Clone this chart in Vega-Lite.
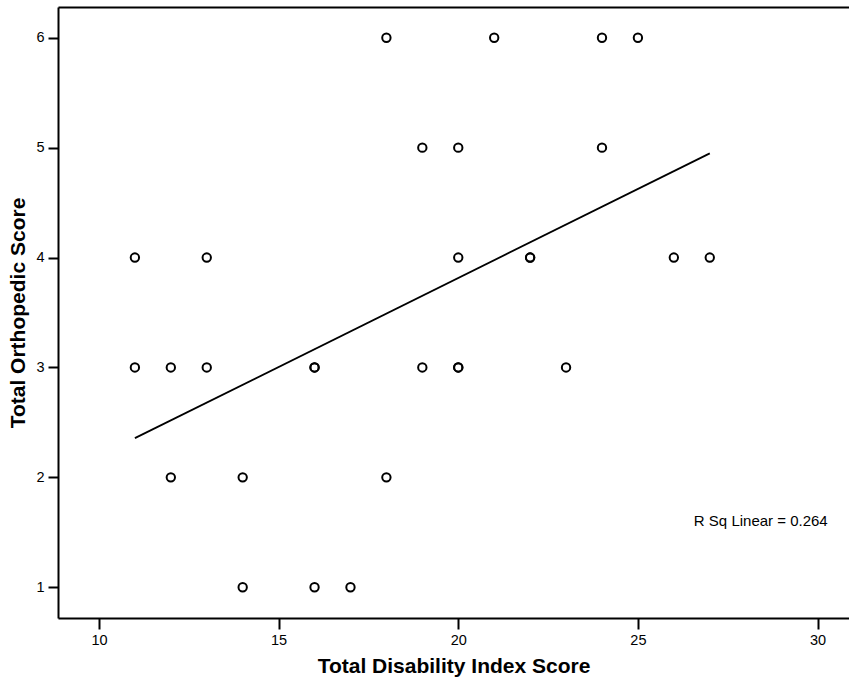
{
  "$schema": "https://vega.github.io/schema/vega-lite/v6.json",
  "autosize": {"type": "none"},
  "padding": {"left": 58, "top": 7, "right": 0, "bottom": 61},
  "width": 791,
  "height": 611,
  "background": "white",
  "config": {
    "view": {"stroke": null},
    "font": "Liberation Sans",
    "axis": {
      "grid": false,
      "domainColor": "black",
      "domainWidth": 2,
      "tickColor": "black",
      "tickWidth": 2,
      "labelColor": "black",
      "labelFont": "Liberation Sans",
      "labelFontSize": 14.5,
      "titleColor": "black",
      "titleFont": "Liberation Sans",
      "titleFontSize": 21,
      "titleFontWeight": "bold"
    }
  },
  "data": {
    "values": [
      {"disability": 11, "orthopedic": 4},
      {"disability": 11, "orthopedic": 3},
      {"disability": 12, "orthopedic": 3},
      {"disability": 12, "orthopedic": 2},
      {"disability": 13, "orthopedic": 4},
      {"disability": 13, "orthopedic": 3},
      {"disability": 14, "orthopedic": 2},
      {"disability": 14, "orthopedic": 1},
      {"disability": 16, "orthopedic": 3},
      {"disability": 16, "orthopedic": 3},
      {"disability": 16, "orthopedic": 1},
      {"disability": 17, "orthopedic": 1},
      {"disability": 18, "orthopedic": 6},
      {"disability": 18, "orthopedic": 2},
      {"disability": 19, "orthopedic": 5},
      {"disability": 19, "orthopedic": 3},
      {"disability": 20, "orthopedic": 5},
      {"disability": 20, "orthopedic": 4},
      {"disability": 20, "orthopedic": 3},
      {"disability": 20, "orthopedic": 3},
      {"disability": 21, "orthopedic": 6},
      {"disability": 22, "orthopedic": 4},
      {"disability": 22, "orthopedic": 4},
      {"disability": 23, "orthopedic": 3},
      {"disability": 24, "orthopedic": 6},
      {"disability": 24, "orthopedic": 5},
      {"disability": 25, "orthopedic": 6},
      {"disability": 26, "orthopedic": 4},
      {"disability": 27, "orthopedic": 4}
    ]
  },
  "layer": [
    {
      "mark": {"type": "point", "shape": "circle", "filled": false, "color": "black", "size": 70, "strokeWidth": 2, "opacity": 1},
      "encoding": {
        "x": {
          "field": "disability",
          "type": "quantitative",
          "scale": {"domain": [8.86, 30.875], "nice": false, "zero": false},
          "axis": {"orient": "bottom", "values": [10, 15, 20, 25, 30], "tickSize": 11, "labelPadding": 4, "title": "Total Disability Index Score", "titlePadding": 9}
        },
        "y": {
          "field": "orthopedic",
          "type": "quantitative",
          "scale": {"domain": [0.72, 6.28], "nice": false, "zero": false},
          "axis": {"values": [1, 2, 3, 4, 5, 6], "tickSize": 10, "labelPadding": 4, "title": "Total Orthopedic Score", "titlePadding": 7}
        }
      }
    },
    {
      "transform": [{"regression": "orthopedic", "on": "disability", "extent": [11, 27]}],
      "mark": {"type": "line", "color": "black", "strokeWidth": 1.8},
      "encoding": {
        "x": {
          "field": "disability",
          "type": "quantitative",
          "axis": {"orient": "top", "labels": false, "ticks": false, "title": null, "domain": true}
        },
        "y": {
          "field": "orthopedic",
          "type": "quantitative",
          "axis": {"values": [1, 2, 3, 4, 5, 6], "tickSize": 10, "labelPadding": 4, "title": "Total Orthopedic Score", "titlePadding": 7}
        }
      }
    },
    {
      "data": {"values": [{"note": "R Sq Linear = 0.264"}]},
      "mark": {"type": "text", "fontSize": 15, "font": "Liberation Sans", "color": "black", "align": "center", "baseline": "middle"},
      "encoding": {
        "x": {"datum": 28.42, "type": "quantitative", "axis": null},
        "y": {
          "datum": 1.6,
          "type": "quantitative",
          "axis": {"values": [1, 2, 3, 4, 5, 6], "tickSize": 10, "labelPadding": 4, "title": "Total Orthopedic Score", "titlePadding": 7}
        },
        "text": {"field": "note"}
      }
    }
  ],
  "resolve": {"axis": {"x": "independent"}}
}
